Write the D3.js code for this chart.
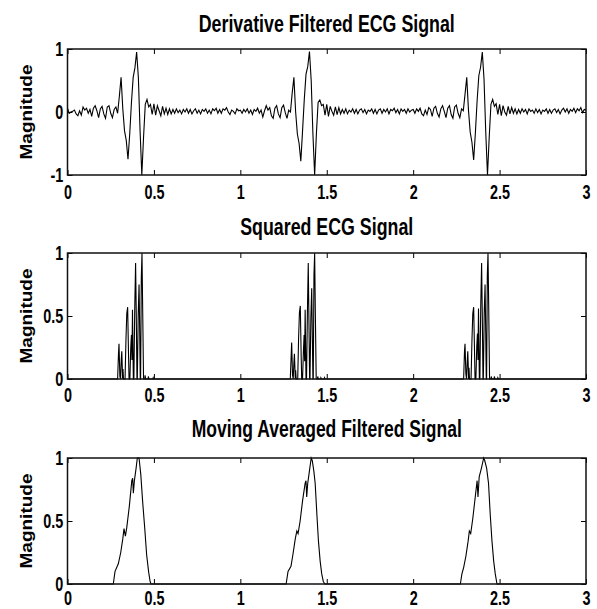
<!DOCTYPE html>
<html>
<head>
<meta charset="utf-8">
<script src="https://cdn.jsdelivr.net/npm/d3@7/dist/d3.min.js"></script>
<style>
  body { margin: 0; background: #fff; }
</style>
</head>
<body>
<div id="chart"></div>
<script>
// panel titles and axis ticks
const titles = [
  "Derivative Filtered ECG Signal",
  "Squared ECG Signal",
  "Moving Averaged Filtered Signal"
];
const yLabel = "Magnitude";
const xTicks = [0, 0.5, 1, 1.5, 2, 2.5, 3];
const yTicksSigned = [-1, 0, 1];
const yTicksUnit = [0, 0.5, 1];

// derivative filtered signal, one value every 0.01 s from 0 to 3 s
const sampleStep = 0.01;
const derivative = [
  0.06, -0.02, 0.00, 0.01, 0.03, -0.03, -0.06, 0.02, -0.05, 0.08,   // 0.0
  0.03, 0.06, -0.02, 0.04, -0.07, 0.06, 0.10, 0.02, -0.09, 0.05,
  0.09, -0.03, -0.10, 0.08, 0.10, -0.02, -0.09, 0.04, 0.08, -0.02,
  0.25, 0.55, 0.05, -0.30, -0.45, -0.75, -0.35, 0.15, 0.55, 0.70,
  0.95, 0.55, -0.30, -1.00, -0.40, 0.12, 0.20, 0.08, 0.12, -0.04,
  0.13, -0.05, 0.10, 0.02, -0.06, 0.09, -0.03, 0.06, -0.04, 0.05,
  -0.03, 0.04, -0.02, 0.05, -0.01, 0.03, -0.03, 0.04, 0.00, 0.05,
  -0.02, 0.04, -0.03, 0.02, 0.05, -0.02, 0.03, -0.03, 0.04, 0.01,
  0.05, -0.02, 0.03, -0.03, 0.05, 0.02, 0.06, -0.02, 0.04, -0.02,
  0.05, 0.03, 0.07, 0.00, -0.04, 0.03, 0.01, -0.03, 0.05, 0.02,
  0.03, -0.02, 0.04, 0.00, 0.05, -0.02, 0.03, -0.04, 0.04, 0.01,   // 1.0
  0.06, -0.02, 0.03, -0.08, 0.02, 0.10, 0.03, 0.07, -0.06, -0.10,
  0.06, 0.10, -0.03, -0.09, 0.07, 0.11, -0.01, -0.10, 0.03, 0.00,
  0.30, 0.55, 0.00, -0.35, -0.50, -0.78, -0.30, 0.20, 0.60, 0.72,
  0.96, 0.50, -0.35, -1.00, -0.35, 0.15, 0.19, 0.10, 0.12, -0.05,
  0.12, -0.07, 0.09, 0.01, -0.05, 0.08, -0.04, 0.07, -0.03, 0.04,
  -0.02, 0.05, -0.03, 0.03, 0.00, 0.05, -0.02, 0.04, -0.03, 0.03,
  0.05, -0.01, 0.04, -0.03, 0.03, 0.01, 0.05, -0.02, 0.04, -0.03,
  0.03, 0.05, -0.02, 0.04, 0.00, 0.05, -0.03, 0.04, 0.02, 0.06,
  -0.01, 0.04, -0.03, 0.05, 0.01, 0.04, -0.02, 0.05, 0.00, 0.03,
  0.04, -0.02, 0.05, 0.01, 0.06, -0.03, -0.06, 0.03, -0.04, 0.07,   // 2.0
  0.04, -0.07, 0.06, 0.09, -0.02, -0.08, 0.05, 0.10, 0.01, -0.09,
  0.06, 0.10, -0.04, -0.10, 0.08, 0.11, -0.02, -0.09, 0.05, 0.02,
  0.28, 0.55, 0.03, -0.32, -0.48, -0.76, -0.33, 0.18, 0.58, 0.71,
  0.95, 0.52, -0.32, -1.00, -0.40, 0.12, 0.20, 0.09, 0.13, -0.04,
  0.12, -0.06, 0.10, 0.00, -0.05, 0.09, -0.03, 0.07, -0.02, 0.05,
  -0.03, 0.04, -0.02, 0.05, 0.00, 0.04, -0.03, 0.05, 0.01, 0.03,
  -0.02, 0.05, -0.01, 0.04, -0.03, 0.03, 0.01, 0.05, -0.02, 0.04,
  -0.02, 0.03, 0.05, -0.01, 0.04, -0.03, 0.03, 0.06, 0.00, 0.05,
  -0.02, 0.04, 0.01, 0.06, -0.01, 0.05, 0.02, 0.07, -0.01, 0.04,
  0.03                                                              // 3.0
];

// squared signal, [time, value]
const squared = [
  [0, 0],
  [0.290, 0], [0.295, 0.20], [0.298, 0.28], [0.303, 0.02], [0.307, 0], [0.311, 0.15], [0.314, 0.22], [0.319, 0], [0.321, 0.08], [0.324, 0],
  [0.333, 0], [0.338, 0.30], [0.343, 0.52], [0.348, 0.57], [0.353, 0.20], [0.356, 0],
  [0.361, 0], [0.366, 0.25], [0.370, 0.35], [0.373, 0.15], [0.376, 0.55], [0.381, 0],
  [0.384, 0], [0.389, 0.55], [0.394, 0.92], [0.398, 0.50], [0.402, 0],
  [0.404, 0], [0.409, 0.50], [0.414, 0.75], [0.418, 0.35], [0.421, 0],
  [0.423, 0], [0.427, 0.80], [0.431, 1.00], [0.435, 0.55], [0.440, 0],
  [0.447, 0], [0.449, 0.03], [0.452, 0], [0.466, 0], [0.468, 0.02], [0.471, 0], [0.494, 0], [0.496, 0.01], [0.499, 0],
  [1.289, 0], [1.294, 0.18], [1.297, 0.29], [1.302, 0.03], [1.306, 0], [1.310, 0.13], [1.313, 0.20], [1.318, 0], [1.320, 0.07], [1.323, 0],
  [1.332, 0], [1.337, 0.32], [1.342, 0.53], [1.347, 0.58], [1.352, 0.18], [1.355, 0],
  [1.360, 0], [1.365, 0.22], [1.369, 0.35], [1.372, 0.14], [1.375, 0.55], [1.380, 0],
  [1.383, 0], [1.388, 0.52], [1.393, 0.92], [1.397, 0.45], [1.401, 0],
  [1.403, 0], [1.408, 0.48], [1.413, 0.72], [1.417, 0.30], [1.420, 0],
  [1.422, 0], [1.426, 0.82], [1.430, 1.00], [1.434, 0.52], [1.439, 0],
  [1.446, 0], [1.448, 0.02], [1.451, 0], [1.464, 0], [1.466, 0.01], [1.469, 0], [1.485, 0], [1.487, 0.01], [1.490, 0],
  [2.292, 0], [2.297, 0.22], [2.300, 0.28], [2.305, 0.04], [2.309, 0], [2.313, 0.14], [2.316, 0.22], [2.321, 0], [2.323, 0.09], [2.326, 0],
  [2.335, 0], [2.340, 0.30], [2.345, 0.52], [2.350, 0.57], [2.355, 0.22], [2.358, 0],
  [2.363, 0], [2.368, 0.26], [2.372, 0.36], [2.375, 0.15], [2.378, 0.56], [2.383, 0],
  [2.386, 0], [2.391, 0.58], [2.396, 0.92], [2.400, 0.50], [2.404, 0],
  [2.406, 0], [2.411, 0.52], [2.416, 0.75], [2.420, 0.35], [2.423, 0],
  [2.425, 0], [2.429, 0.82], [2.433, 1.00], [2.437, 0.58], [2.442, 0],
  [2.450, 0], [2.452, 0.02], [2.455, 0], [2.468, 0], [2.470, 0.02], [2.473, 0], [2.488, 0], [2.490, 0.01], [2.493, 0],
  [3, 0]
];

// moving averaged signal, [time, value]
const averaged = [
  [0, 0],
  [0.265, 0], [0.275, 0.10], [0.294, 0.16], [0.308, 0.25], [0.320, 0.36], [0.327, 0.44], [0.335, 0.38], [0.343, 0.45],
  [0.358, 0.62], [0.372, 0.82], [0.377, 0.84], [0.381, 0.72], [0.387, 0.82], [0.397, 0.92], [0.404, 1.00], [0.414, 1.00],
  [0.424, 0.87], [0.435, 0.65], [0.447, 0.44], [0.458, 0.23], [0.470, 0.09], [0.478, 0.02], [0.483, 0],
  [1.265, 0], [1.276, 0.10], [1.293, 0.14], [1.305, 0.24], [1.318, 0.36], [1.327, 0.42], [1.334, 0.40], [1.346, 0.50],
  [1.360, 0.66], [1.375, 0.80], [1.380, 0.82], [1.384, 0.69], [1.390, 0.80], [1.400, 0.90], [1.410, 1.00], [1.416, 0.98],
  [1.425, 0.90], [1.433, 0.80], [1.443, 0.55], [1.452, 0.34], [1.462, 0.18], [1.471, 0.08], [1.480, 0.02], [1.489, 0],
  [2.273, 0], [2.282, 0.08], [2.292, 0.13], [2.305, 0.22], [2.318, 0.34], [2.325, 0.42], [2.333, 0.40], [2.345, 0.52],
  [2.360, 0.70], [2.370, 0.82], [2.375, 0.69], [2.382, 0.85], [2.395, 0.92], [2.408, 1.00], [2.414, 0.98],
  [2.425, 0.92], [2.436, 0.80], [2.446, 0.55], [2.456, 0.34], [2.466, 0.18], [2.475, 0.08], [2.485, 0],
  [3, 0]
];

const width = 597;
const height = 609;
const plotLeft = 67.5;
const plotRight = 586;
const plotH = 126;

const panels = [
  { top: 49,  domain: [-1, 1], yTicks: yTicksSigned,
    points: derivative.map((v, i) => [i * sampleStep, v]) },
  { top: 253, domain: [0, 1], yTicks: yTicksUnit, points: squared },
  { top: 458, domain: [0, 1], yTicks: yTicksUnit, points: averaged }
];

// title baselines and widths as they sit in the figure
const titleBase = [32, 235, 437];
const titleWidths = [256, 173, 270];
// last panel's tick labels sit tight against the page bottom
const xLabelPad = [10, 9, 7];
const squeeze = 0.72;   // no narrow face installed, so squeeze the bold sans

const svg = d3.select("#chart").append("svg")
  .attr("width", width)
  .attr("height", height)
  .style("display", "block")
  .style("background", "#fff");

const x = d3.scaleLinear().domain([0, 3]).range([plotLeft, plotRight]);

const tickFont = "bold 20px 'Liberation Sans', Arial, sans-serif";

panels.forEach((p, k) => {
  const y = d3.scaleLinear().domain(p.domain).range([p.top + plotH, p.top]);
  const g = svg.append("g");

  // inward ticks on all four sides
  g.append("g")
    .attr("transform", `translate(0,${p.top + plotH})`)
    .call(d3.axisBottom(x).tickValues(xTicks).tickFormat(d => String(d))
      .tickSizeInner(-5).tickSizeOuter(0).tickPadding(xLabelPad[k]));
  g.append("g")
    .attr("transform", `translate(0,${p.top})`)
    .call(d3.axisTop(x).tickValues(xTicks).tickFormat("")
      .tickSizeInner(-5).tickSizeOuter(0));
  g.append("g")
    .attr("transform", `translate(${plotLeft},0)`)
    .call(d3.axisLeft(y).tickValues(p.yTicks).tickFormat(d => String(d))
      .tickSizeInner(-5).tickSizeOuter(0).tickPadding(6));
  g.append("g")
    .attr("transform", `translate(${plotRight},0)`)
    .call(d3.axisRight(y).tickValues(p.yTicks).tickFormat("")
      .tickSizeInner(-5).tickSizeOuter(0));

  g.selectAll(".domain").remove();
  g.selectAll(".tick line").attr("stroke", "#000");
  g.selectAll(".tick text")
    .style("font", tickFont)
    .attr("fill", "#000")
    .attr("transform", `scale(${squeeze},1)`);

  const line = d3.line()
    .x(d => x(d[0]))
    .y(d => y(d[1]));

  g.append("path")
    .datum(p.points)
    .attr("d", line)
    .attr("fill", "none")
    .attr("stroke", "#000")
    .attr("stroke-width", 1.1);

  g.append("rect")
    .attr("x", plotLeft)
    .attr("y", p.top)
    .attr("width", plotRight - plotLeft)
    .attr("height", plotH)
    .attr("fill", "none")
    .attr("stroke", "#111")
    .attr("stroke-width", 1.5);

  g.append("text")
    .attr("x", (plotLeft + plotRight) / 2)
    .attr("y", titleBase[k])
    .attr("text-anchor", "middle")
    .attr("textLength", titleWidths[k])
    .attr("lengthAdjust", "spacingAndGlyphs")
    .style("font", "bold 24px 'Liberation Sans', Arial, sans-serif")
    .text(titles[k]);

  g.append("text")
    .attr("transform", `translate(32,${p.top + plotH / 2}) rotate(-90)`)
    .attr("text-anchor", "middle")
    .attr("textLength", 95)
    .attr("lengthAdjust", "spacingAndGlyphs")
    .style("font", "bold 16px 'Liberation Sans', Arial, sans-serif")
    .text(yLabel);
});
</script>
</body>
</html>
